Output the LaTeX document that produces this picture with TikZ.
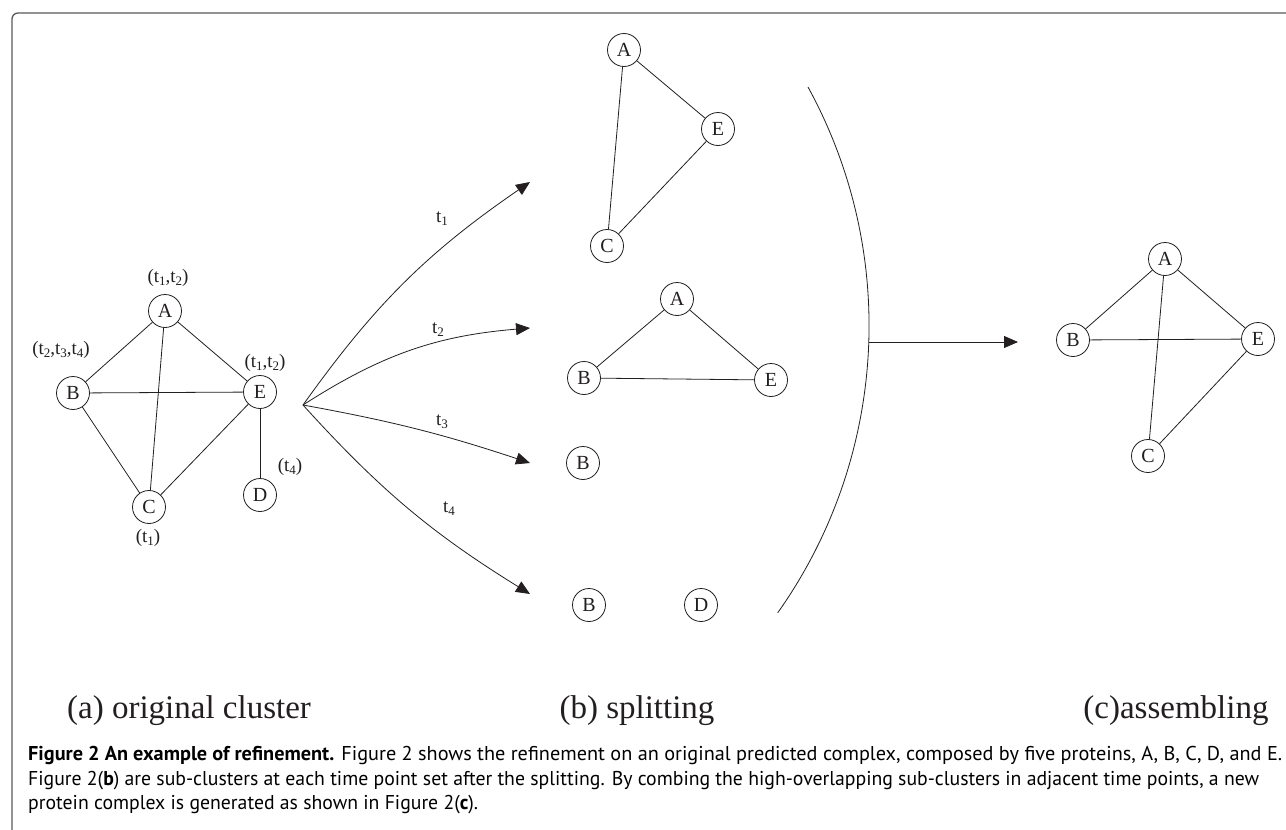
\documentclass[tikz,border=0pt]{standalone}
\usepackage{fontspec}
\setmainfont{Liberation Serif}
\newfontfamily\capfont{PT Sans}
\usetikzlibrary{arrows.meta}
\definecolor{ink}{HTML}{231F20}
\definecolor{frame}{HTML}{5A5A5A}
\newsavebox\capboxA
\newsavebox\capboxB
\newsavebox\capboxC
\newcommand\tsub[1]{t\raisebox{-0.35ex}{\fontsize{13}{13}\selectfont #1}}
\newcommand\capsize{\capfont\fontsize{20}{24}\selectfont}
\begin{document}
\sbox\capboxA{\capsize\textbf{Figure 2 An example of refinement.} Figure 2 shows the refinement on an original predicted complex, composed by five proteins, A, B, C, D, and E.}%
\sbox\capboxB{\capsize Figure 2(\textbf{b}) are sub-clusters at each time point set after the splitting. By combing the high-overlapping sub-clusters in adjacent time points, a new}%
\sbox\capboxC{\capsize protein complex is generated as shown in Figure 2(\textbf{c}).}%
\pgfmathsetmacro\sxA{1254pt/\the\wd\capboxA}%
\pgfmathsetmacro\sxB{1231pt/\the\wd\capboxB}%
\begin{tikzpicture}[x=1pt,y=-1pt,
  pn/.style={circle,draw=ink,line width=0.8pt,minimum size=33pt,inner sep=0pt,text=ink,font=\fontsize{20}{20}\selectfont},
  ed/.style={draw=ink,line width=0.8pt},
  lbl/.style={font=\fontsize{19}{22}\selectfont,text=ink,inner sep=0pt},
  arr/.style={draw=ink,line width=0.8pt,-{Triangle[length=14pt,width=12pt]}},
  paneltitle/.style={font=\fontsize{33}{36}\selectfont,text=ink,inner sep=0pt},
  capline/.style={anchor=base west,inner sep=0pt,text=ink}]
\useasboundingbox (0,0) rectangle (1286,830);
\fill[white] (0,0) rectangle (1286,830);
% frame
\draw[draw=frame,line width=1.3pt] (12,830) -- (12,19) arc[start angle=180,end angle=270,radius=6] -- (1286,13);
% left cluster
\node[pn] (lA) at (165,311) {A};
\node[pn] (lB) at (73,393) {B};
\node[pn] (lE) at (260,392) {E};
\node[pn] (lC) at (149,507) {C};
\node[pn] (lD) at (260,495) {D};
\draw[ed] (lA) -- (lB);
\draw[ed] (lA) -- (lE);
\draw[ed] (lA) -- (lC);
\draw[ed] (lB) -- (lE);
\draw[ed] (lB) -- (lC);
\draw[ed] (lE) -- (lC);
\draw[ed] (lE) -- (lD);
\node[lbl] (labA) at (168,278) {(\tsub{1},\tsub{2})};
\node[lbl] (labB) at (61,350) {(\tsub{2},\tsub{3},\tsub{4})};
\node[lbl] (labE) at (265,363) {(\tsub{1},\tsub{2})};
\node[lbl] (labD) at (290,467) {(\tsub{4})};
\node[lbl] (labC) at (148,538) {(\tsub{1})};
% splitting arrows
\coordinate (O) at (303,405);
\coordinate (tip1) at (530,182);
\coordinate (tip2) at (530,328);
\coordinate (tip3) at (530,463);
\coordinate (tip4) at (530,594);
\draw[arr] (O) to[bend left=10] (tip1);
\draw[arr] (O) to[bend left=14] (tip2);
\draw[arr] (O) to[bend left=4] (tip3);
\draw[arr] (O) to[bend right=8] (tip4);
\node[lbl] (lt1) at (442,219) {\tsub{1}};
\node[lbl] (lt2) at (438,330) {\tsub{2}};
\node[lbl] (lt3) at (442,422) {\tsub{3}};
\node[lbl] (lt4) at (449,509) {\tsub{4}};
% sub-cluster t1
\node[pn] (m1A) at (624,50) {A};
\node[pn] (m1E) at (718,129) {E};
\node[pn] (m1C) at (607,246) {C};
\draw[ed] (m1A) -- (m1E);
\draw[ed] (m1A) -- (m1C);
\draw[ed] (m1C) -- (m1E);
% sub-cluster t2
\node[pn] (m2A) at (677,299) {A};
\node[pn] (m2B) at (584,378) {B};
\node[pn] (m2E) at (771,380) {E};
\draw[ed] (m2A) -- (m2B);
\draw[ed] (m2A) -- (m2E);
\draw[ed] (m2B) -- (m2E);
% t3, t4
\node[pn] (m3B) at (583,463) {B};
\node[pn] (m4B) at (589,605) {B};
\node[pn] (m4D) at (701,605) {D};
% big arc
\draw[ed] (808,87) arc[start angle=-28.7,end angle=35.3,radius=497];
\coordinate (arcm) at (869,342);
\coordinate (tip5) at (1018,342);
\draw[arr] (arcm) -- (tip5);
% assembled cluster
\node[pn] (rA) at (1165,259) {A};
\node[pn] (rB) at (1073,340) {B};
\node[pn] (rE) at (1258,339) {E};
\node[pn] (rC) at (1148,456) {C};
\draw[ed] (rA) -- (rB);
\draw[ed] (rA) -- (rE);
\draw[ed] (rA) -- (rC);
\draw[ed] (rB) -- (rE);
\draw[ed] (rC) -- (rE);
% panel captions
\node[paneltitle] (ca) at (189,711) {(a) original cluster};
\node[paneltitle] (cb) at (637,711) {(b) splitting};
\node[paneltitle] (cc) at (1176,711) {(c)assembling};
% figure caption
\node[capline] (cap1) at (28,760) {\scalebox{\sxA}[1]{\usebox\capboxA}};
\node[capline] (cap2) at (28,785) {\scalebox{\sxB}[1]{\usebox\capboxB}};
\node[capline] (cap3) at (28,809) {\scalebox{\sxB}[1]{\usebox\capboxC}};
\end{tikzpicture}
\end{document}
